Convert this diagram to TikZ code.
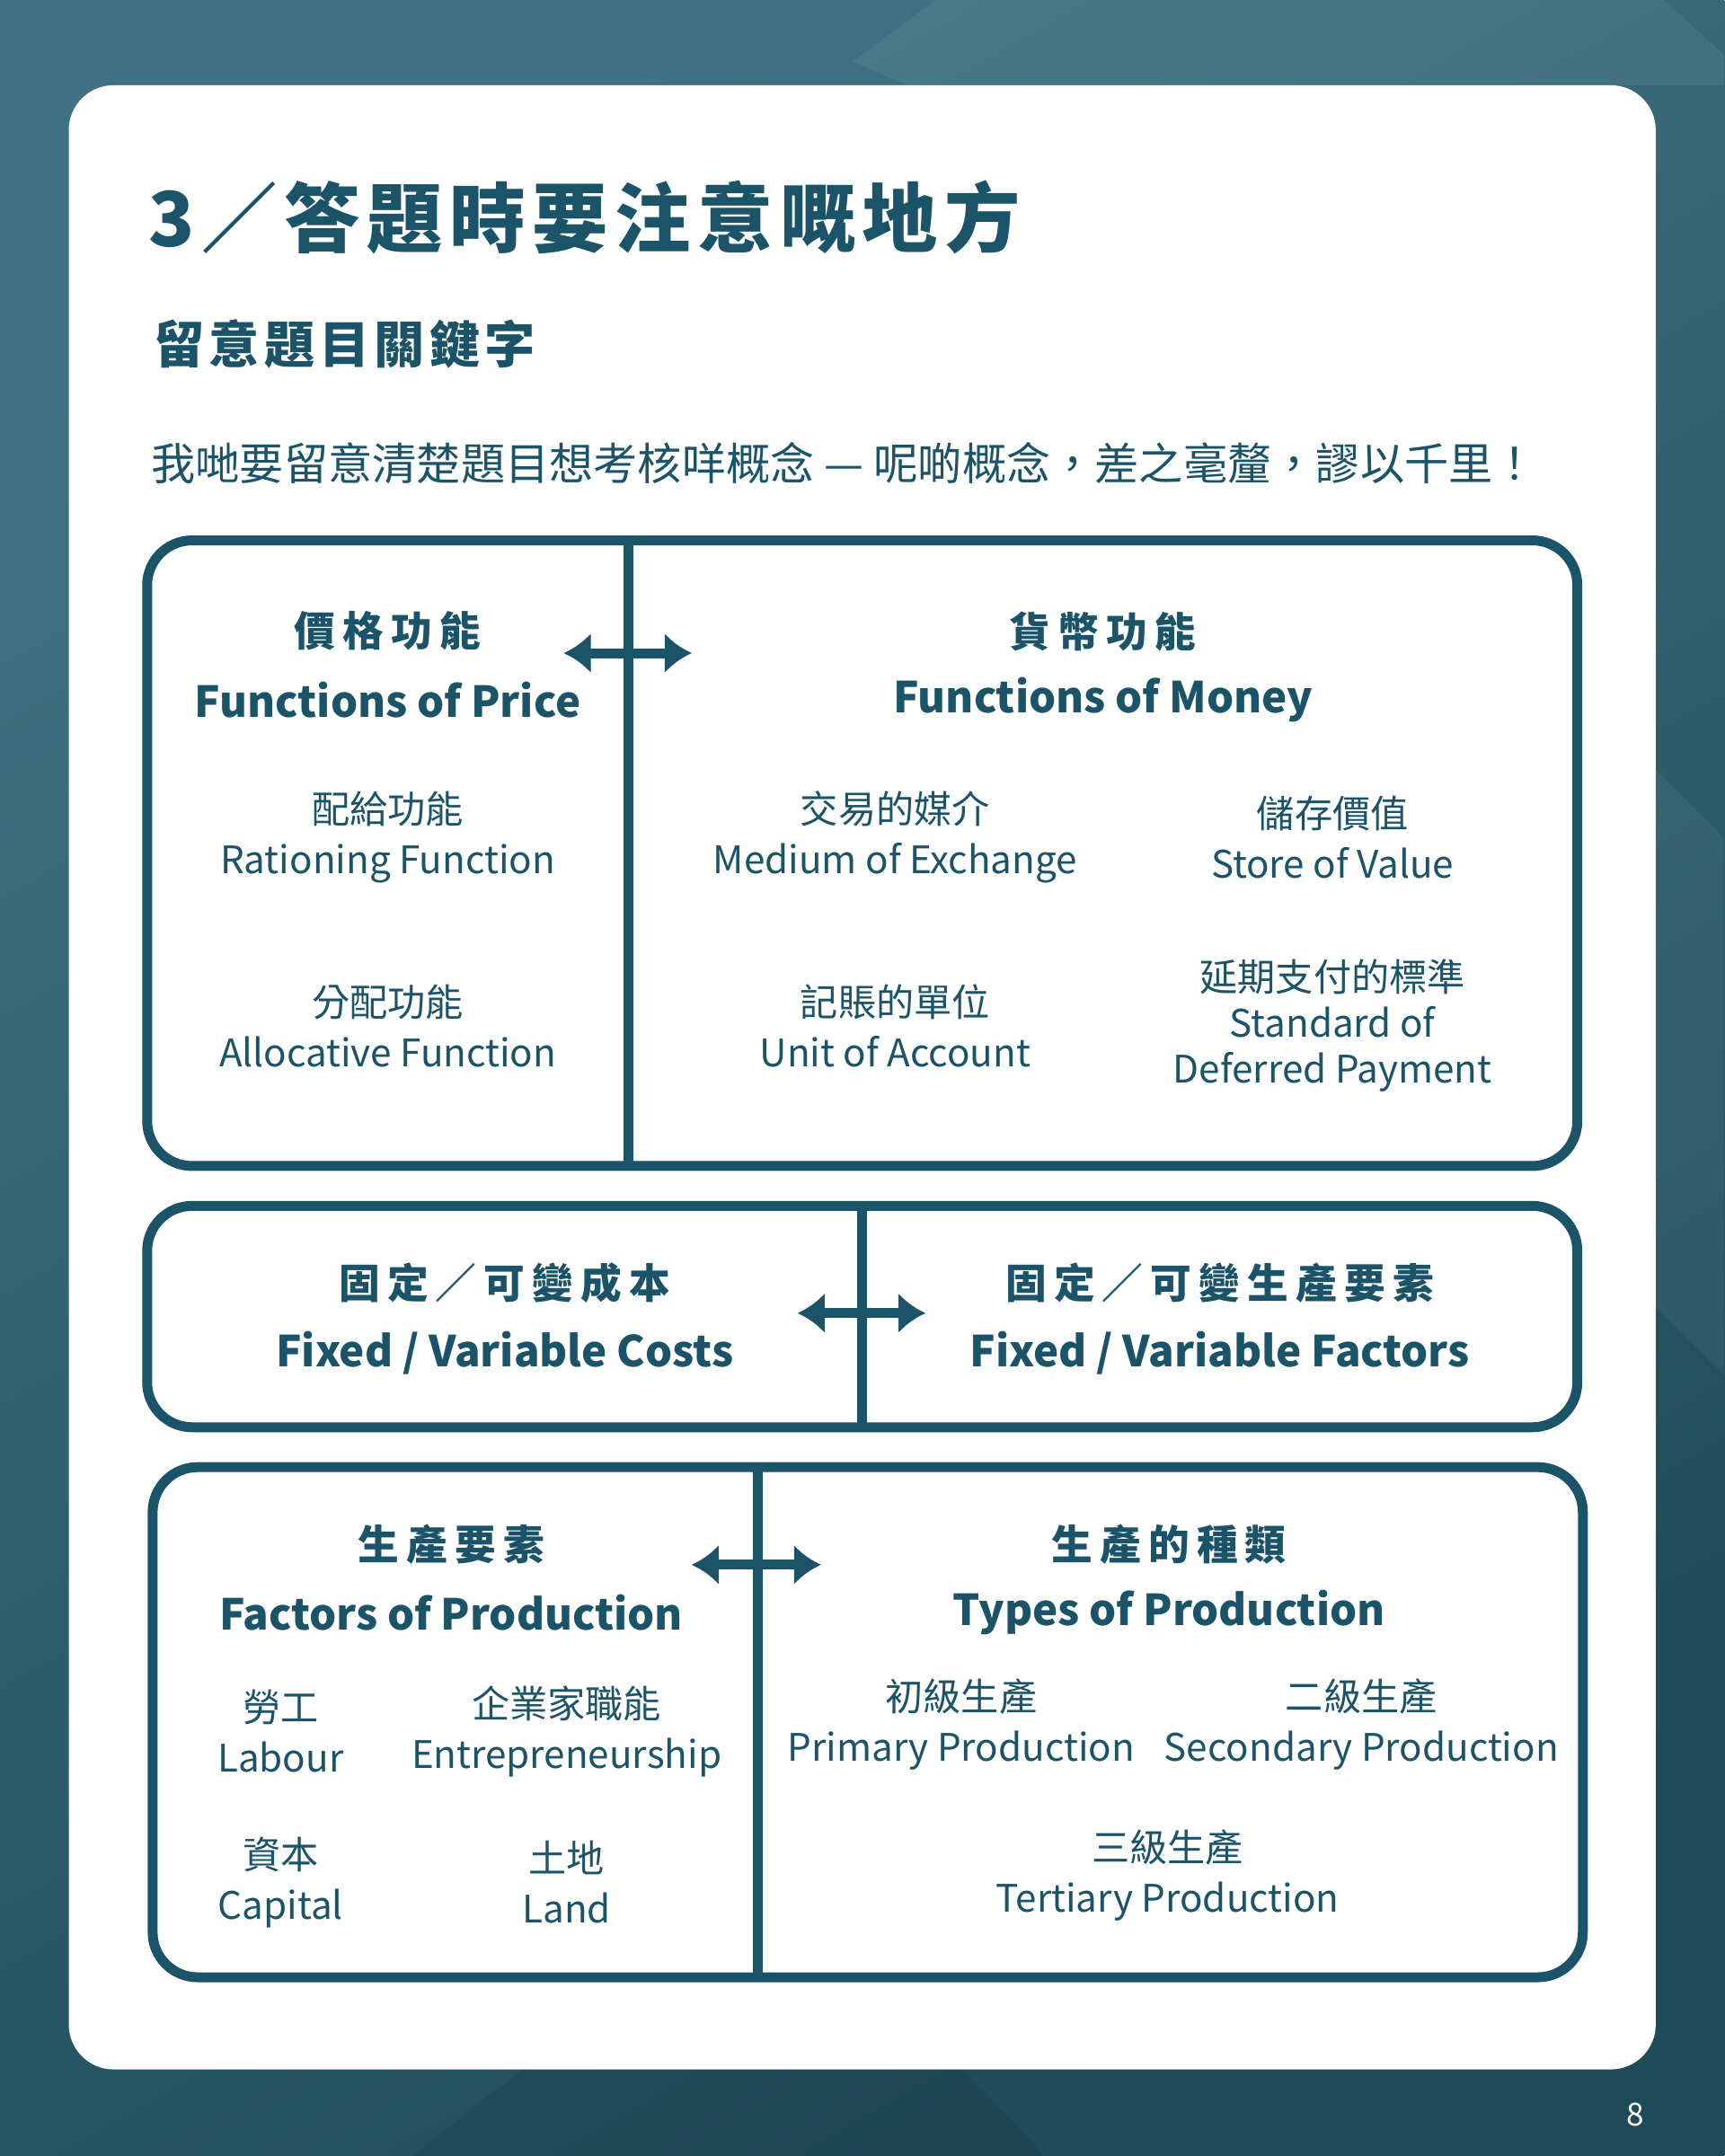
\documentclass[tikz,border=0pt]{standalone}
\usepackage{fontspec}
\setmainfont{Noto Sans CJK TC}
\newfontfamily\spaced[LetterSpace=18]{Noto Sans CJK TC}
\newfontfamily\tightspaced[LetterSpace=9]{Noto Sans CJK TC}
\usetikzlibrary{arrows.meta}
\definecolor{ink}{HTML}{1B5468}
\definecolor{bgdark}{HTML}{1F4A58}
\definecolor{bglight}{HTML}{3F7383}

\tikzset{
  panel/.style={draw=ink, line width=1.1mm, rounded corners=5mm},
  head/.style={text=ink, font=\spaced\bfseries\fontsize{13}{15}\selectfont},
  eng/.style={text=ink, font=\bfseries\fontsize{13.5}{16}\selectfont},
  item/.style={text=ink, align=center, font=\fontsize{12}{16}\selectfont},
  link/.style={draw=ink, line width=1.1mm, {Latex[length=3mm,width=4.5mm]}-{Latex[length=3mm,width=4.5mm]}}
}

\begin{document}
\begin{tikzpicture}[x=0.01531cm, y=-0.01531cm]
    \useasboundingbox (0,0) rectangle (1254,1568);
    % background
    \shade [top color=bglight, bottom color=bgdark, shading angle=30] (0,0) rectangle (1254,1568);
    \fill [white, opacity=0.06] (620,45) -- (680,0) -- (1210,0) -- (1254,40) -- (1254,62) -- (660,62) -- cycle;
    \fill [white, opacity=0.05] (1204,560) -- (1254,610) -- (1254,1000) -- (1204,950) -- cycle;
    \fill [black, opacity=0.06] (300,1568) -- (380,1505) -- (700,1505) -- (760,1568) -- cycle;
    \fill [white, rounded corners=5mm] (50,62) rectangle (1204,1505);
    \node [text=white, font=\fontsize{10}{12}\selectfont] (pagenum) at (1189,1538) {8};

    % titles
    \node [anchor=west, text=ink, font=\tightspaced\bfseries\fontsize{24}{30}\selectfont] (title) at (100,158) {3／答題時要注意嘅地方};
    \node [anchor=west, text=ink, font=\tightspaced\bfseries\fontsize{16}{20}\selectfont] (subtitle) at (104,250) {留意題目關鍵字};
    \node [anchor=west, text=ink, font=\fontsize{14}{17}\selectfont] (intro) at (102,337) {我哋要留意清楚題目想考核咩概念 — 呢啲概念，差之毫釐，謬以千里！};

    % panel 1
    \draw [panel] (107,393) rectangle (1147,848);
    \draw [ink, line width=1.1mm] (457,393) -- (457,848);
    \node [head] (pricezh) at (282,459) {價格功能};
    \node [eng] (priceen) at (282,509) {Functions of Price};
    \node [head] (moneyzh) at (802,459) {貨幣功能};
    \node [eng] (moneyen) at (802,509) {Functions of Money};
    \node [item] (ration) at (282,609) {配給功能\\Rationing Function};
    \node [item] (alloc) at (282,746) {分配功能\\Allocative Function};
    \node [item] (medium) at (651,609) {交易的媒介\\Medium of Exchange};
    \node [item] (store) at (969,609) {儲存價值\\Store of Value};
    \node [item] (unit) at (651,746) {記賬的單位\\Unit of Account};
    \node [item, font=\fontsize{12}{14.5}\selectfont] (deferred) at (969,746) {延期支付的標準\\Standard of\\Deferred Payment};
    \coordinate (p1l) at (410,475);
    \coordinate (p1r) at (503,475);
    \draw [link] (p1l) -- (p1r);

    % panel 2
    \draw [panel] (107,877) rectangle (1147,1038);
    \draw [ink, line width=1.1mm] (627,877) -- (627,1038);
    \node [head] (costzh) at (367,933) {固定／可變成本};
    \node [eng] (costen) at (367,984) {Fixed / Variable Costs};
    \node [head] (factzh) at (887,933) {固定／可變生產要素};
    \node [eng] (facten) at (887,984) {Fixed / Variable Factors};
    \coordinate (p2l) at (580,955);
    \coordinate (p2r) at (673,955);
    \draw [link] (p2l) -- (p2r);

    % panel 3
    \draw [panel] (111,1067) rectangle (1151,1438);
    \draw [ink, line width=1.1mm] (551,1067) -- (551,1438);
    \node [head] (prodzh) at (328,1123) {生產要素};
    \node [eng] (proden) at (328,1173) {Factors of Production};
    \node [head] (typezh) at (850,1123) {生產的種類};
    \node [eng] (typeen) at (850,1173) {Types of Production};
    \node [item] (labour) at (204,1259) {勞工\\Labour};
    \node [item] (entre) at (412,1259) {企業家職能\\Entrepreneurship};
    \node [item] (capital) at (204,1369) {資本\\Capital};
    \node [item] (land) at (412,1369) {土地\\Land};
    \node [item] (primary) at (699,1254) {初級生產\\Primary Production};
    \node [item] (secondary) at (990,1254) {二級生產\\Secondary Production};
    \node [item] (tertiary) at (849,1364) {三級生產\\Tertiary Production};
    \coordinate (p3l) at (503,1138);
    \coordinate (p3r) at (597,1138);
    \draw [link] (p3l) -- (p3r);
\end{tikzpicture}
\end{document}
